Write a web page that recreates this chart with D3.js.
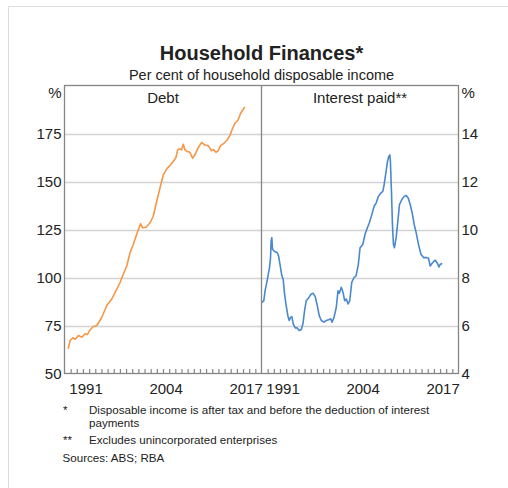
<!DOCTYPE html>
<html><head><meta charset="utf-8">
<script src="https://cdn.jsdelivr.net/npm/d3@7"></script>
<style>
body{margin:0;background:#fff;}
text{font-family:"Liberation Sans",Arial,sans-serif;fill:#222;}
</style>
</head><body>
<svg id="c" width="508" height="488"></svg>
<script>
const debtYears = [1988.60,1988.92,1989.36,1989.73,1990.27,1990.82,1991.35,1991.73,1992.17,1992.70,1993.25,1994.06,1994.87,1995.68,1996.49,1997.03,1997.56,1998.11,1998.65,1999.18,1999.73,2000.11,2000.35,2000.71,2001.24,2001.89,2002.42,2002.98,2003.51,2004.05,2004.60,2005.13,2005.67,2006.10,2006.38,2006.75,2007.02,2007.29,2007.56,2007.94,2008.37,2008.81,2009.18,2009.72,2010.27,2010.80,2011.34,2011.89,2012.26,2012.59,2012.96,2013.35,2013.88,2014.42,2014.86,2015.29,2015.67,2016.20,2016.59,2017.29];
const debtValues = [62.9,67.2,68.6,67.8,69.8,68.9,70.7,70.3,72.8,74.5,75.0,79.3,85.4,88.8,94.0,97.4,101.8,106.0,112.9,117.3,122.5,125.9,128.0,125.9,126.2,128.5,131.9,139.7,146.6,153.5,156.6,158.3,160.4,162.5,166.5,167.0,166.5,169.4,166.5,165.6,165.2,162.1,163.9,167.6,170.4,169.0,168.7,166.0,166.5,165.2,166.0,168.7,169.9,171.6,173.9,177.6,180.2,182.0,185.4,188.9];

const interestYears = [1988.05,1988.37,1988.59,1988.91,1989.30,1989.47,1989.56,1989.68,1989.79,1990.12,1990.54,1990.77,1991.09,1991.31,1991.52,1991.75,1992.01,1992.28,1992.50,1992.72,1992.93,1993.15,1993.47,1993.80,1994.12,1994.45,1994.73,1995.00,1995.26,1995.65,1996.08,1996.40,1996.73,1997.06,1997.38,1997.71,1998.15,1998.52,1998.91,1999.24,1999.45,1999.78,2000.15,2000.43,2000.64,2000.96,2001.24,2001.52,2001.78,2002.06,2002.33,2002.66,2003.03,2003.36,2003.73,2004.01,2004.45,2004.82,2005.20,2005.52,2005.92,2006.29,2006.62,2006.99,2007.38,2007.71,2007.92,2008.24,2008.46,2008.68,2008.85,2008.94,2009.11,2009.27,2009.43,2009.60,2009.87,2010.15,2010.41,2010.80,2011.18,2011.50,2011.83,2012.15,2012.48,2012.80,2013.13,2013.50,2013.90,2014.32,2014.76,2015.13,2015.41,2015.69,2015.95,2016.22,2016.60,2016.83,2017.04,2017.36];
const interestValues = [6.96,7.03,7.45,7.86,8.41,8.83,9.52,9.66,9.18,9.08,9.04,8.90,8.41,8.07,7.93,7.31,6.83,6.41,6.21,6.34,6.37,6.07,5.90,5.90,5.79,5.82,6.07,6.62,7.03,7.15,7.31,7.34,7.20,6.83,6.41,6.21,6.14,6.21,6.24,6.28,6.14,6.34,6.76,7.45,7.34,7.59,7.38,7.03,7.10,6.90,7.03,7.80,8.00,8.07,8.55,9.24,9.38,9.80,10.07,10.28,10.62,10.97,11.10,11.38,11.52,11.59,11.87,12.42,12.83,13.04,13.11,12.83,11.59,10.21,9.38,9.24,9.66,10.35,11.04,11.25,11.38,11.42,11.31,11.04,10.69,10.21,9.86,9.38,8.97,8.83,8.83,8.80,8.48,8.58,8.66,8.72,8.58,8.44,8.55,8.58];

const leftTickValues = [50,75,100,125,150,175];
const rightTickValues = [4,6,8,10,12,14];
const yearLabels = [1991,2004,2017];
const panelTitles = ["Debt","Interest paid**"];
const chartTitle = "Household Finances*";
const chartSubtitle = "Per cent of household disposable income";
const footMarks = ["*","","**"];
const footTexts = ["Disposable income is after tax and before the deduction of interest","payments","Excludes unincorporated enterprises"];
const sourceText = "Sources: ABS; RBA";

const svg = d3.select("#c");
const L = 64.5, M = 261.5, R = 458.5, T = 85.5, B = 373.5;
const frameCol = "#858585", gridCol = "#d3d3d3";

const xL = d3.scaleLinear().domain([1988,2020]).range([L,M]);
const xR = d3.scaleLinear().domain([1988,2020]).range([M,R]);
const yL = d3.scaleLinear().domain([50,200]).range([B,T]);
const yR = d3.scaleLinear().domain([4,16]).range([B,T]);

// outer page border
svg.append("line").attr("x1",8.5).attr("x2",508).attr("y1",6.5).attr("y2",6.5).attr("stroke","#dcdcdc");
svg.append("line").attr("x1",8.5).attr("x2",8.5).attr("y1",6.5).attr("y2",488).attr("stroke","#dcdcdc");

// title
svg.append("text").attr("x",M).attr("y",60).attr("text-anchor","middle")
  .attr("font-size",20).attr("font-weight","bold").text(chartTitle);
svg.append("text").attr("x",M).attr("y",80).attr("text-anchor","middle")
  .attr("font-size",14.5).attr("fill","#333").text(chartSubtitle);

// gridlines
svg.append("g").selectAll("line").data(leftTickValues.filter(v=>v>50)).join("line")
  .attr("x1",L).attr("x2",R).attr("y1",d=>Math.round(yL(d))+0.5).attr("y2",d=>Math.round(yL(d))+0.5)
  .attr("stroke",gridCol).attr("stroke-width",1.3);

// y axes
const gL = svg.append("g").attr("transform",`translate(${L},0)`)
  .call(d3.axisLeft(yL).tickValues(leftTickValues).tickSize(0).tickPadding(3));
gL.select(".domain").remove();
gL.selectAll("text").attr("font-size",15).attr("fill","#333").style("font-family","Liberation Sans, Arial, sans-serif");
const gR = svg.append("g").attr("transform",`translate(${R},0)`)
  .call(d3.axisRight(yR).tickValues(rightTickValues).tickSize(0).tickPadding(3));
gR.select(".domain").remove();
gR.selectAll("text").attr("font-size",15).attr("fill","#333").style("font-family","Liberation Sans, Arial, sans-serif");

// % units
svg.append("text").attr("x",L-3).attr("y",98).attr("text-anchor","end").attr("font-size",15).attr("fill","#333").text("%");
svg.append("text").attr("x",R+3).attr("y",98).attr("text-anchor","start").attr("font-size",15).attr("fill","#333").text("%");

// x ticks (year boundaries)
const yearTicks = d3.range(1989,2020);
[xL,xR].forEach(xs=>{
  const g = svg.append("g").attr("transform",`translate(0,${B})`)
    .call(d3.axisBottom(xs).tickValues(yearTicks).tickSize(-4.5).tickFormat(""));
  g.select(".domain").remove();
  g.selectAll("line").attr("stroke",frameCol).attr("stroke-width",1.2);
});
// year labels centred within year
[xL,xR].forEach(xs=>{
  svg.append("g").selectAll("text").data(yearLabels).join("text")
    .attr("x",d=>xs(d+0.5)).attr("y",394).attr("text-anchor","middle")
    .attr("font-size",15).attr("fill","#333").text(d=>d);
});

// frame
svg.append("rect").attr("x",L).attr("y",T).attr("width",R-L).attr("height",B-T)
  .attr("fill","none").attr("stroke",frameCol).attr("stroke-width",1.3);
svg.append("line").attr("x1",M).attr("x2",M).attr("y1",T).attr("y2",B).attr("stroke",frameCol).attr("stroke-width",1.3);

// panel titles
svg.append("text").attr("x",(L+M)/2).attr("y",103).attr("text-anchor","middle").attr("font-size",15).attr("fill","#333").text(panelTitles[0]);
svg.append("text").attr("x",(M+R)/2).attr("y",103).attr("text-anchor","middle").attr("font-size",15).attr("fill","#333").text(panelTitles[1]);

// lines
const debtData = debtYears.map((y,i)=>[y,debtValues[i]]);
const intData = interestYears.map((y,i)=>[y,interestValues[i]]);
svg.append("path").datum(debtData)
  .attr("d",d3.line().x(d=>xL(d[0])).y(d=>yL(d[1])).curve(d3.curveLinear))
  .attr("fill","none").attr("stroke","#f79646").attr("stroke-width",1.6).attr("stroke-linejoin","round");
svg.append("path").datum(intData)
  .attr("d",d3.line().x(d=>xR(d[0])).y(d=>yR(d[1])).curve(d3.curveLinear))
  .attr("fill","none").attr("stroke","#4a88cf").attr("stroke-width",1.6).attr("stroke-linejoin","round");

// footnotes
const fy = [414,427,444];
footTexts.forEach((t,i)=>{
  svg.append("text").attr("x",63).attr("y",fy[i]).attr("font-size",11.6).attr("fill","#222").text(footMarks[i]);
  svg.append("text").attr("x",89).attr("y",fy[i]).attr("font-size",11.6).attr("fill","#222").text(t);
});
svg.append("text").attr("x",62.5).attr("y",462).attr("font-size",11.6).attr("fill","#222").text(sourceText);
</script>
</body></html>
